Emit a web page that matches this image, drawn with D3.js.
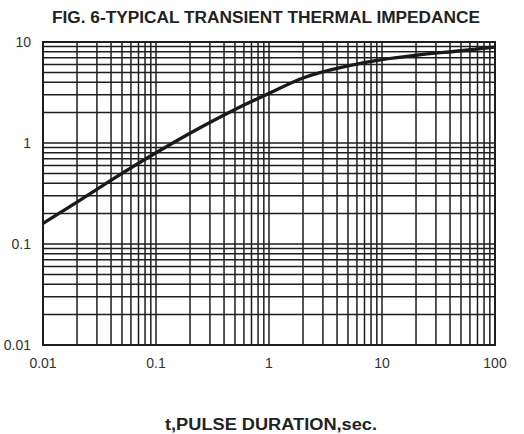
<!DOCTYPE html>
<html>
<head>
<meta charset="utf-8">
<script src="https://cdn.jsdelivr.net/npm/d3@7"></script>
<style>
  body { margin: 0; background: #fff; }
  text { font-family: "Liberation Sans", Arial, sans-serif; }
</style>
</head>
<body>
<div id="chart"></div>
<script>
// pulse duration (s) vs transient thermal impedance
var pulse = [0.01, 0.02, 0.05, 0.1, 0.2, 0.5, 1, 2, 5, 10, 20, 50, 100];
var impedance = [0.16, 0.26, 0.5, 0.8, 1.25, 2.15, 3.1, 4.4, 5.8, 6.7, 7.4, 8.2, 8.9];

var xTicks = [0.01, 0.1, 1, 10, 100];
var xTickLabels = ["0.01", "0.1", "1", "10", "100"];
var yTicks = [0.01, 0.1, 1, 10];
var yTickLabels = ["0.01", "0.1", "1", "10"];

var W = 524, H = 434;
// plot box (note: "top" is a window global, so use other names)
var pLeft = 43, pRight = 495, pTop = 42, pBottom = 345;

var svg = d3.select("#chart").append("svg")
    .attr("width", W)
    .attr("height", H);

var x = d3.scaleLog().domain([0.01, 100]).range([pLeft, pRight]);
var y = d3.scaleLog().domain([0.01, 10]).range([pBottom, pTop]);

// grid: every 1..9 step in each decade
var xGrid = [], yGrid = [];
for (var e = -2; e < 2; e++)
  for (var m = 1; m <= 9; m++) xGrid.push(m * Math.pow(10, e));
xGrid.push(100);
for (var e2 = -2; e2 < 1; e2++)
  for (var m2 = 1; m2 <= 9; m2++) yGrid.push(m2 * Math.pow(10, e2));
yGrid.push(10);

svg.append("g").selectAll("line")
  .data(xGrid)
  .enter().append("line")
  .attr("x1", function(d) { return x(d); })
  .attr("x2", function(d) { return x(d); })
  .attr("y1", pTop)
  .attr("y2", pBottom)
  .attr("stroke", "#1e1e1e")
  .attr("stroke-width", 1.5);

svg.append("g").selectAll("line")
  .data(yGrid)
  .enter().append("line")
  .attr("x1", pLeft)
  .attr("x2", pRight)
  .attr("y1", function(d) { return y(d); })
  .attr("y2", function(d) { return y(d); })
  .attr("stroke", "#1e1e1e")
  .attr("stroke-width", 1.5);

svg.append("rect")
  .attr("x", pLeft).attr("y", pTop)
  .attr("width", pRight - pLeft).attr("height", pBottom - pTop)
  .attr("fill", "none")
  .attr("stroke", "#1e1e1e")
  .attr("stroke-width", 2);

// curve
var pts = pulse.map(function(p, i) { return [p, impedance[i]]; });
var line = d3.line()
  .x(function(d) { return x(d[0]); })
  .y(function(d) { return y(d[1]); })
  .curve(d3.curveMonotoneX);

svg.append("path")
  .datum(pts)
  .attr("d", line)
  .attr("fill", "none")
  .attr("stroke", "#1a1a1a")
  .attr("stroke-width", 3.4);

// tick labels
svg.append("g").selectAll("text")
  .data(xTicks)
  .enter().append("text")
  .attr("x", function(d) { return x(d); })
  .attr("y", 368)
  .attr("text-anchor", "middle")
  .attr("font-size", 14)
  .attr("fill", "#333")
  .text(function(d, i) { return xTickLabels[i]; });

svg.append("g").selectAll("text")
  .data(yTicks)
  .enter().append("text")
  .attr("x", 31)
  .attr("y", function(d) { return y(d) + 5; })
  .attr("text-anchor", "end")
  .attr("font-size", 14)
  .attr("fill", "#333")
  .text(function(d, i) { return yTickLabels[i]; });

// titles
svg.append("text")
  .attr("x", 266)
  .attr("y", 23)
  .attr("text-anchor", "middle")
  .attr("font-size", 16)
  .attr("font-weight", "bold")
  .attr("fill", "#222")
  .attr("textLength", 428)
  .attr("lengthAdjust", "spacingAndGlyphs")
  .text("FIG. 6-TYPICAL TRANSIENT THERMAL IMPEDANCE");

svg.append("text")
  .attr("x", 271)
  .attr("y", 430)
  .attr("text-anchor", "middle")
  .attr("font-size", 16)
  .attr("font-weight", "bold")
  .attr("fill", "#222")
  .attr("textLength", 212)
  .attr("lengthAdjust", "spacingAndGlyphs")
  .text("t,PULSE DURATION,sec.");
</script>
</body>
</html>
